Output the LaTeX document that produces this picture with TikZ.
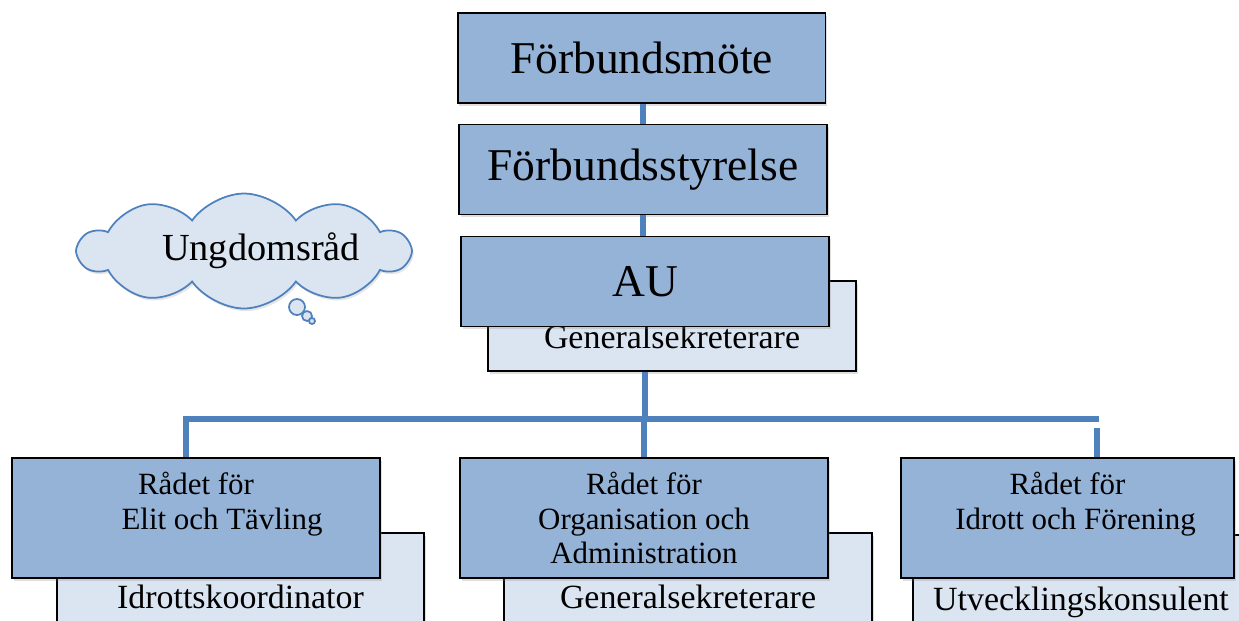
\documentclass[tikz,border=0pt]{standalone}
\usepackage{fontspec}
\setmainfont{Liberation Serif}
\usetikzlibrary{shapes.symbols,shadows}
\definecolor{boxblue}{HTML}{95B3D7}
\definecolor{paleblue}{HTML}{DBE5F1}
\definecolor{lineblue}{HTML}{4F81BD}
\newcommand{\bigfont}{\fontsize{25.9}{30}\selectfont}
\newcommand{\cloudfont}{\fontsize{21.8}{26}\selectfont}
\newcommand{\radfont}{\fontsize{17.6}{19.6}\selectfont}
\newcommand{\subfont}{\fontsize{19.3}{22}\selectfont}

\begin{document}
\begin{tikzpicture}[x=0.02cm, y=-0.02cm,
	frontbox/.style={draw=black, line width=1.1pt, fill=boxblue, minimum width=7.36cm, minimum height=1.8cm, inner sep=0pt, align=center, drop shadow={shadow xshift=1pt, shadow yshift=-1.5pt, opacity=0.25}},
	backbox/.style={draw=black, line width=1.1pt, fill=paleblue, minimum width=7.36cm, minimum height=1.8cm, inner sep=0pt, text depth=0.12cm, font=\subfont, drop shadow={shadow xshift=1pt, shadow yshift=-1.5pt, opacity=0.25}},
	conn/.style={draw=lineblue, line width=2.9pt},
	bubble/.style={draw=lineblue, line width=1pt, fill=paleblue}]
	\useasboundingbox (0,0) rectangle (1239,620);
	% top of the tree
	\node[frontbox, font=\bigfont]	(moete)		at (641.5,58)	{Förbundsmöte};
	\node[frontbox, font=\bigfont]	(styrelse)	at (643,169.5)	{Förbundsstyrelse};
	\node[backbox, text height=1.0cm]	(au-gs)	at (672,326)	{Generalsekreterare};
	\node[frontbox, font=\bigfont]	(au)		at (645,281.5)	{AU};
	% cloud
	\node[cloud, cloud puffs=10, cloud puff arc=110, cloud ignores aspect, minimum width=6.6cm, minimum height=2.3cm, inner sep=0pt, draw=lineblue, fill=paleblue, line width=1pt, font=\cloudfont, drop shadow={shadow xshift=1pt, shadow yshift=-1.5pt, opacity=0.2}] (ungdom) at (244,251) {\hspace*{0.68cm}Ungdomsråd};
	\draw[bubble]	(297,307) circle[radius=0.16cm];
	\draw[bubble]	(307,316) circle[radius=0.1cm];
	\draw[bubble]	(312,321) circle[radius=0.06cm];
	% the three councils
	\node[backbox, text height=1.32cm, minimum width=7.34cm]	(elit-gs)	at (240.5,578)	{Idrottskoordinator};
	\node[frontbox, minimum height=2.4cm, font=\radfont]	(elit)	at (196,518)	{Rådet för\\\hspace*{1.04cm}Elit och Tävling\\~};
	\node[backbox, text height=1.32cm]	(org-gs)	at (688,578)	{Generalsekreterare};
	\node[frontbox, minimum height=2.4cm, font=\radfont]	(org)	at (644,518)	{Rådet för\\Organisation och\\Administration};
	\node[backbox, text height=1.32cm, minimum width=6.72cm]	(idrott-gs)	at (1081,580)	{Utvecklingskonsulent};
	\node[frontbox, minimum height=2.4cm, minimum width=6.66cm, font=\radfont]	(idrott)	at (1067.5,518)	{Rådet för\\\hspace*{0.32cm}Idrott och Förening\\~};
	% lines
	\coordinate (bus-l)	at (186,419);
	\coordinate (bus-r)	at (1099,419);
	\coordinate (bus-rd)	at (1097,428);
	\draw[conn]	(styrelse.north |- moete.south) -- (styrelse.north);
	\draw[conn]	(au.north -| styrelse.south) -- (styrelse.south);
	\draw[conn]	(au-gs.south -| au.south) -- (au.south |- bus-l);
	\draw[conn]	(elit.north -| bus-l) |- (bus-r);
	\draw[conn]	(org.north) -- (org.north |- bus-l);
	\draw[conn]	(idrott.north -| bus-rd) -- (bus-rd);
\end{tikzpicture}
\end{document}
